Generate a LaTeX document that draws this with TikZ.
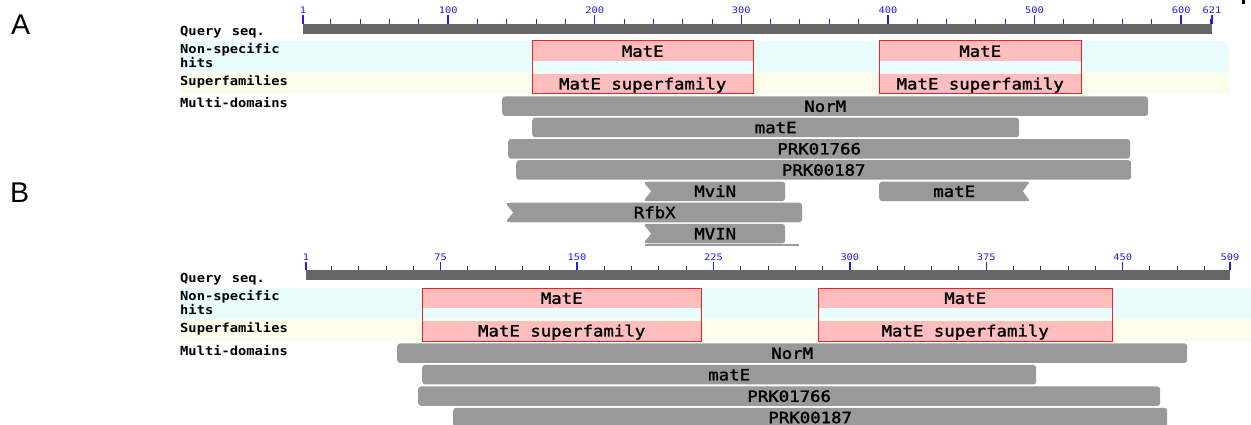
\documentclass[tikz,border=0pt]{standalone}
\usepackage{fontspec}
\setmainfont{Liberation Sans}
\newfontfamily\barmono[FakeStretch=1.12,FakeBold=1.6]{DejaVu Sans Mono}
\newfontfamily\sidemono[FakeStretch=1.1]{DejaVu Sans Mono}
\newfontfamily\tickmono[FakeStretch=1.15]{DejaVu Sans Mono}
\definecolor{barg}{RGB}{153,153,153}
\definecolor{rulerg}{RGB}{102,102,102}
\definecolor{tickb}{RGB}{30,30,235}
\definecolor{hitpink}{RGB}{255,190,190}
\definecolor{hitred}{RGB}{238,34,34}
\definecolor{bandcyan}{RGB}{234,253,254}
\definecolor{bandyellow}{RGB}{253,253,236}
\begin{document}
\begin{tikzpicture}[x=1pt,y=-1pt,
  bar/.style={fill=barg, rounded corners=3pt, inner sep=0pt, anchor=west, minimum height=19.5pt, font=\barmono\fontsize{15.5}{16}\selectfont, text height=11.3pt, text depth=0pt},
  pinkbar/.style={fill=hitpink, inner sep=0pt, minimum height=20pt, font=\barmono\fontsize{15.5}{16}\selectfont, text height=11.3pt, text depth=0pt},
  hitframe/.style={draw=hitred, line width=1pt},
  sidelbl/.style={anchor=base west, inner sep=0pt, font=\sidemono\bfseries\fontsize{12.5}{14}\selectfont},
  ticklbl/.style={anchor=base, inner sep=0pt, text=tickb, font=\tickmono\fontsize{9}{9}\selectfont},
  minortick/.style={draw=tickb, line width=1pt},
  majortick/.style={draw=tickb, line width=1.3pt},
  rulerbar/.style={fill=rulerg, inner sep=0pt, anchor=north west, minimum height=9.5pt},
  bandbox/.style={inner sep=0pt, anchor=north west},
  panellbl/.style={anchor=base west, inner sep=0pt, font=\fontsize{28.5}{30}\selectfont}
]
\useasboundingbox (0,0) rectangle (1251,425);
\fill[white] (0,0) rectangle (1251,425);
\fill[black] (1242,0) rectangle (1245,4);

% ---------------- Panel A ----------------
\node[panellbl] (labA) at (11,35) {A};
% bands
\node[bandbox, fill=bandcyan, minimum width=1049pt, minimum height=31pt] (cyanA) at (180,41) {};
\node[bandbox, fill=bandyellow, minimum width=1049pt, minimum height=22pt] (yellowA) at (180,72) {};
% ruler
\node[rulerbar, minimum width=909pt] (rulerA) at (303,24) {};
\foreach \n in {20,40,...,620} \draw[minortick] ({303+(\n-1)*1.466},19) -- ({303+(\n-1)*1.466},24);
\foreach \n in {1,100,200,300,400,500,600,621} {
  \draw[majortick] ({303+(\n-1)*1.466},15) -- ({303+(\n-1)*1.466},24);
  \node[ticklbl] (tA\n) at ({303+(\n-1)*1.466},14) {\n};
}
% side labels
\node[sidelbl] (qsA) at (180,35.5) {Query\hspace{2pt} seq.};
\node[sidelbl] (nsA) at (180,53.3) {Non-specific};
\node[sidelbl] (htA) at (180,67.7) {hits};
\node[sidelbl] (sfA) at (180,85.7) {Superfamilies};
\node[sidelbl] (mdA) at (180,107.5) {Multi-domains};
% hits
\node[pinkbar, anchor=north west, minimum width=221pt] (mateA1) at (532,41) {MatE};
\node[pinkbar, anchor=south west, minimum width=221pt] (supA1) at (532,94) {MatE superfamily};
\draw[hitframe] (mateA1.north west) rectangle (supA1.south east);
\node[pinkbar, anchor=north west, minimum width=202pt] (mateA2) at (879,41) {MatE};
\node[pinkbar, anchor=south west, minimum width=202pt] (supA2) at (879,94) {MatE superfamily};
\draw[hitframe] (mateA2.north west) rectangle (supA2.south east);
% multi-domains
\node[bar, minimum width=646pt] (normA) at (502,106.2) {NorM};
\node[bar, minimum width=487pt] (mateA) at (532,127.5) {matE};
\node[bar, minimum width=622pt] (prka) at (508,148.8) {PRK01766};
\node[bar, minimum width=615pt] (prkb) at (516,170) {PRK00187};
\node[bar, minimum width=140pt] (mvinA) at (645,191.3) {MviN};
\fill[barg] (645,181.55) rectangle (651,201.05);
\fill[white] (643,181.55) -- (651,191.3) -- (643,201.05) -- cycle;
\node[bar, minimum width=150pt] (mateB) at (879,191.3) {matE};
\fill[barg] (1023,181.55) rectangle (1029,201.05);
\fill[white] (1030,181.55) -- (1023,191.3) -- (1030,201.05) -- cycle;
\node[bar, minimum width=295pt] (rfbx) at (507,212.5) {RfbX};
\fill[barg] (507,202.75) rectangle (513,222.25);
\fill[white] (505,202.75) -- (513,212.5) -- (505,222.25) -- cycle;
\node[bar, minimum width=140pt] (mvinB) at (645,233.7) {MVIN};
\fill[barg] (645,223.95) rectangle (651,243.45);
\fill[white] (643,223.95) -- (651,233.7) -- (643,243.45) -- cycle;
\fill[barg] (645,244.4) rectangle (799,245.9);

% ---------------- Panel B ----------------
\node[panellbl] (labB) at (10,203) {B};
\node[bandbox, fill=bandcyan, minimum width=1071pt, minimum height=30.5pt] (cyanB) at (180,288) {};
\node[bandbox, fill=bandyellow, minimum width=1071pt, minimum height=22.5pt] (yellowB) at (180,318.5) {};
\node[rulerbar, minimum width=924pt] (rulerB) at (306,270) {};
\foreach \n in {15,30,...,495} \draw[minortick] ({306+(\n-1)*1.8189},265.5) -- ({306+(\n-1)*1.8189},270);
\foreach \n in {1,75,150,225,300,375,450,509} {
  \draw[majortick] ({306+(\n-1)*1.8189},261.5) -- ({306+(\n-1)*1.8189},270);
  \node[ticklbl] (tB\n) at ({306+(\n-1)*1.8189},260.2) {\n};
}
\node[sidelbl] (qsB) at (180,282) {Query\hspace{2pt} seq.};
\node[sidelbl] (nsB) at (180,300) {Non-specific};
\node[sidelbl] (htB) at (180,314.3) {hits};
\node[sidelbl] (sfB) at (180,332) {Superfamilies};
\node[sidelbl] (mdB) at (180,355) {Multi-domains};
\node[pinkbar, anchor=north west, minimum width=279pt] (mateB1) at (422,288) {MatE};
\node[pinkbar, anchor=south west, minimum width=279pt] (supB1) at (422,341) {MatE superfamily};
\draw[hitframe] (mateB1.north west) rectangle (supB1.south east);
\node[pinkbar, anchor=north west, minimum width=294pt] (mateB2) at (818,288) {MatE};
\node[pinkbar, anchor=south west, minimum width=294pt] (supB2) at (818,341) {MatE superfamily};
\draw[hitframe] (mateB2.north west) rectangle (supB2.south east);
\node[bar, minimum width=790pt] (normB) at (397,353.2) {NorM};
\node[bar, minimum width=614pt] (mateC) at (422,374.7) {matE};
\node[bar, minimum width=742pt] (prkc) at (418,396.2) {PRK01766};
\node[bar, minimum width=714pt] (prkd) at (453,417.5) {PRK00187};
\end{tikzpicture}
\end{document}
